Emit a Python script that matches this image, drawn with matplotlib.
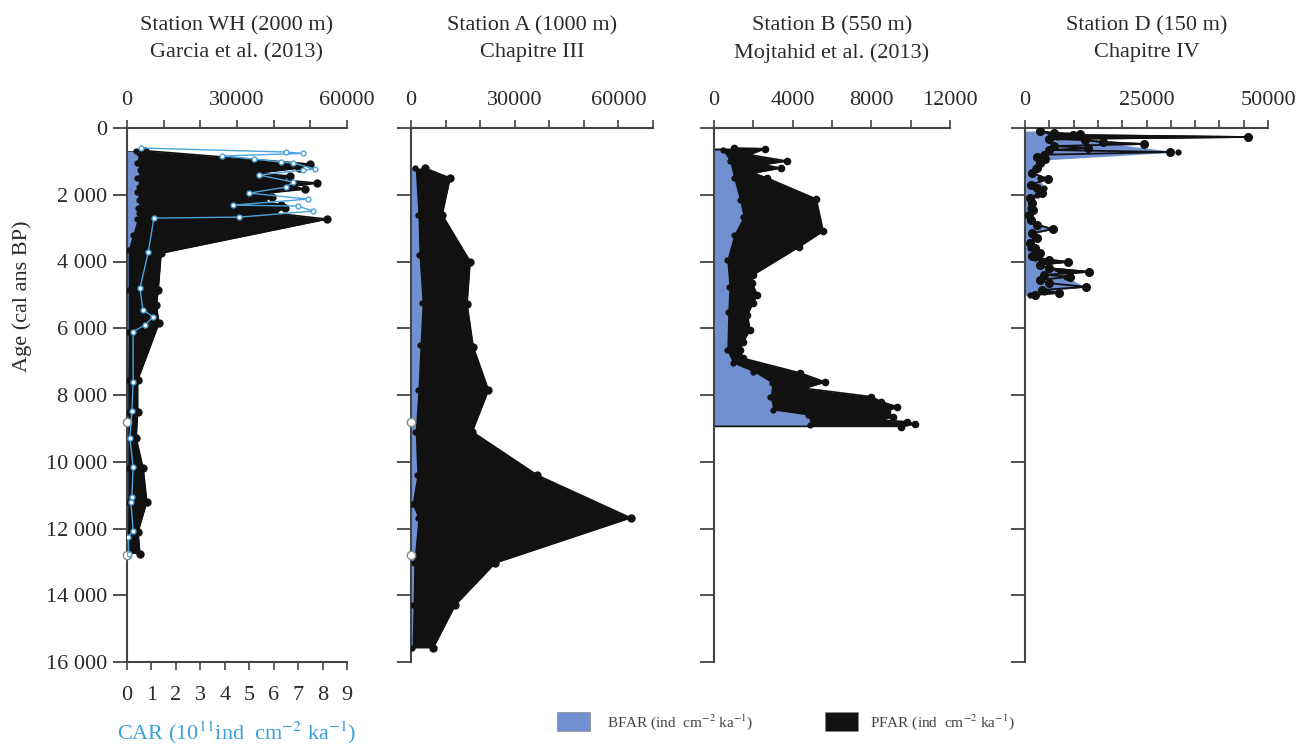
import matplotlib
matplotlib.use('Agg')
import matplotlib.pyplot as plt
from matplotlib.patches import Rectangle

plt.rcParams['font.family'] = ['Liberation Serif', 'DejaVu Serif']
plt.rcParams['mathtext.fontset'] = 'stix'

W, H = 1306, 747
BLUE = '#7090d0'
BLACK = '#111111'
CAR_C = '#4aa3dd'
AX_C = '#444444'
TXT_C = '#2a2a2a'

# ---------------- data ----------------
titles = ["Station WH (2000 m)\nGarcia et al. (2013)",
          "Station A (1000 m)\nChapitre III",
          "Station B (550 m)\nMojtahid et al. (2013)",
          "Station D (150 m)\nChapitre IV"]
age_ticks = [0, 2000, 4000, 6000, 8000, 10000, 12000, 14000, 16000]
age_labels = ['0', '2 000', '4 000', '6 000', '8 000', '10 000', '12 000', '14 000', '16 000']

# Station WH
WH_pfar_age = [680, 1080, 1200, 1350, 1440, 1550, 1650, 1750, 1830, 1950, 2070, 2200, 2300, 2400,
               2550, 2730, 3750, 4850, 5300, 5850, 7550, 8500, 9300, 10200, 11200, 12100, 12750]
WH_pfar = [5000, 49900, 47000, 35700, 44500, 42000, 51800, 45000, 48500, 38000, 39500, 37000, 42000, 43100,
           40000, 54500, 9300, 8500, 8000, 8700, 2900, 2900, 2500, 4400, 5400, 3000, 3500]
WH_bfar_age = [700, 750, 1050, 1260, 1500, 1770, 1920, 2160, 2400, 2550, 2730, 3200, 3650, 4850,
               6100, 7550, 8500, 10200, 11200, 12750]
WH_bfar = [2500, 3200, 2600, 3500, 2800, 3300, 2600, 3400, 2900, 3200, 2800, 1500, 300, 300,
           300, 200, 200, 200, 200, 100]
WH_car_age = [600, 720, 760, 840, 930, 1020, 1050, 1230, 1260, 1410, 1620, 1770, 1950, 2130, 2310,
              2340, 2490, 2670, 2700, 3720, 4800, 5450, 5660, 5900, 6100, 7600, 8480, 9290, 10160,
              11050, 11200, 12070, 12250, 12760]
WH_car = [0.57, 6.5, 7.2, 3.9, 5.2, 6.3, 6.8, 7.7, 7.2, 5.4, 6.8, 6.5, 5.0, 7.4, 4.35,
          7.0, 7.6, 4.6, 1.1, 0.87, 0.53, 0.65, 1.07, 0.74, 0.25, 0.25, 0.2, 0.12, 0.25,
          0.2, 0.16, 0.25, 0.05, 0.08]
CAR_ticks = [0, 1, 2, 3, 4, 5, 6, 7, 8, 9]

# Station A
A_pfar_age = [1200, 1500, 2600, 4000, 5270, 6560, 7850, 9100, 10400, 11680, 13030, 14290, 15580]
A_pfar = [4000, 11300, 9000, 17100, 16200, 18000, 22400, 17700, 36500, 63500, 24400, 12800, 6400]
A_bfar_age = [1200, 2600, 3800, 5240, 6500, 7850, 9100, 10400, 11260, 11680, 13030, 14290, 15580]
A_bfar = [1200, 2000, 2300, 3200, 2600, 2000, 1200, 1700, 300, 2000, 800, 600, 300]
white_age = [8800, 12800]
white_val = [0, 0]

# Station B
B_pfar_age = [600, 620, 800, 990, 1100, 1200, 1350, 1500, 2130, 3090, 3560, 4400, 4640, 5000, 5240,
              5600, 6050, 6400, 6650, 6900, 7340, 7610, 7800, 8050, 8200, 8350, 8500, 8650, 8750,
              8800, 8870, 8950]
B_pfar = [1000, 2600, 1800, 3700, 2500, 3400, 2000, 2700, 5200, 5550, 4330, 1990, 1930, 2200, 1990,
          1700, 1830, 1500, 1320, 1480, 4380, 5650, 4600, 8000, 8500, 9300, 8800, 9100, 8500,
          9800, 10200, 9500]
B_bfar_age = [660, 1000, 1500, 2160, 2660, 3200, 3950, 4760, 5500, 6650, 7040, 7300, 7640, 8050,
              8450, 8600, 8900]
B_bfar = [450, 800, 1000, 1300, 1480, 1000, 650, 760, 700, 650, 950, 2000, 2950, 2850, 3000,
          4800, 4900]

# Station D
D_pfar_age = [100, 150, 180, 210, 270, 330, 360, 420, 480, 540, 600, 660, 720, 800, 860, 930, 1050,
              1200, 1350, 1530, 1700, 1800, 1950, 2100, 2250, 2460, 2600, 2750, 2900, 3030, 3150,
              3300, 3450, 3600, 3750, 3850, 3950, 4010, 4100, 4200, 4310, 4400, 4460, 4550, 4650,
              4760, 4850, 4940, 5000]
D_pfar = [3000, 6000, 11300, 9900, 45900, 5000, 12300, 16100, 24500, 6000, 13000, 5000, 29800, 4000,
          2500, 4100, 3000, 2500, 1500, 4700, 1200, 2500, 3500, 1000, 1500, 1700, 800, 1200, 2500,
          5700, 1500, 2500, 1000, 2000, 3000, 1500, 5000, 8900, 3000, 5000, 13200, 4000, 9300,
          3000, 5000, 12600, 3500, 7000, 2000]
D_bfar_age = [100, 270, 720, 960, 1200, 1500, 1800, 2000, 2400, 2800, 3030, 3200, 3600, 3900, 4200,
              4460, 4760, 4900, 5000]
D_bfar = [3000, 6500, 31500, 3500, 2000, 3000, 4000, 2500, 1000, 1500, 5500, 1500, 1000, 2000, 5000,
          8500, 12300, 4000, 1000]

# top axes settings
xlims = [60000, 70000, 12000, 50000]
major_ticks = [[0, 30000, 60000], [0, 30000, 60000], [0, 4000, 8000, 12000], [0, 25000, 50000]]
minor_step = [10000, 10000, 2000, 5000]

legend_labels = ['BFAR (ind  cm$^{-2}$ ka$^{-1}$)', 'PFAR (ind  cm$^{-2}$ ka$^{-1}$)']

# ---------------- layout ----------------
panels_px = [(127, 347), (411, 653), (714, 950), (1025, 1268)]
top_px, bot_px = 128, 662

fig = plt.figure(figsize=(W / 100, H / 100), dpi=100)

series = [
    (WH_pfar_age, WH_pfar, WH_bfar_age, WH_bfar, 5),
    (A_pfar_age, A_pfar, A_bfar_age, A_bfar, 5),
    (B_pfar_age, B_pfar, B_bfar_age, B_bfar, 4.5),
    (D_pfar_age, D_pfar, D_bfar_age, D_bfar, 5.5),
]

axes = []
for i, (x0, x1) in enumerate(panels_px):
    ax = fig.add_axes([x0 / W, 1 - bot_px / H, (x1 - x0) / W, (bot_px - top_px) / H])
    axes.append(ax)
    pa, pv, ba, bv, ms = series[i]
    ax.fill_betweenx(pa, 0, pv, color=BLACK, lw=0, zorder=1)
    ax.plot(pv, pa, color=BLACK, lw=1.2, zorder=1.5)
    ax.fill_betweenx(ba, 0, bv, color=BLUE, lw=0, zorder=2)
    if i == 3:
        ax.plot(pv, pa, '-o', color=BLACK, ms=ms, lw=1.3, zorder=3)
    else:
        ax.plot(pv, pa, 'o', color=BLACK, ms=ms, lw=0, zorder=3)
    ax.plot(bv, ba, 'o', color=BLACK, ms=3.5, lw=0, zorder=3)

    ax.set_xlim(0, xlims[i])
    ax.set_ylim(16000, 0)
    ax.set_yticks(age_ticks)
    if i == 0:
        ax.set_yticklabels(age_labels)
    else:
        ax.set_yticklabels([])
    for s in ['right', 'bottom']:
        ax.spines[s].set_visible(False)
    for s in ['left', 'top']:
        ax.spines[s].set_color(AX_C)
        ax.spines[s].set_linewidth(1.5)
    ax.tick_params(axis='y', direction='out', length=10, width=1.3, color=AX_C,
                   labelsize=16, labelcolor=TXT_C, pad=4)
    ax.patch.set_alpha(0)
    # titles
    cx = (x0 + x1) / 2 / W
    for k, line in enumerate(titles[i].split('\n')):
        fig.text(cx, 1 - (26 + 27 * k) / H, line, ha='center', va='center',
                 fontsize=16, color=TXT_C)

# white markers in panels WH and A
for ax in axes[:2]:
    ax.plot(white_val, white_age, 'o', mfc='white', mec='#888888', ms=6, zorder=4, clip_on=False)

axes[0].set_ylabel('Age (cal ans BP)', fontsize=16, color=TXT_C)
axes[0].yaxis.set_label_coords(-0.43, 0.685)

# CAR twin axis
ax2 = axes[0].twiny()
ax2.set_xlim(0, 9)
ax2.xaxis.set_ticks_position('bottom')
ax2.xaxis.set_label_position('bottom')
for s in ['top', 'left', 'right']:
    ax2.spines[s].set_visible(False)
ax2.spines['bottom'].set_visible(True)
ax2.spines['bottom'].set_color(AX_C)
ax2.spines['bottom'].set_linewidth(1.5)
ax2.set_xticks(CAR_ticks)
ax2.tick_params(axis='x', direction='out', length=6, width=1.2, color=AX_C,
                labelsize=16, labelcolor=TXT_C, pad=11)
ax2.plot(WH_car, WH_car_age, '-o', color=CAR_C, lw=1.0, ms=3.5, mfc='white', mec=CAR_C, zorder=5)
ax2.set_xlabel('CAR (10$^{11}$ind  cm$^{-2}$ ka$^{-1}$)', fontsize=16, color='#3a9fdb', labelpad=11)

# top axes (after twiny, which moves ticks of axes[0])
for i, ax in enumerate(axes):
    ax.xaxis.set_ticks_position('top')
    ax.xaxis.set_label_position('top')
    ax.set_xticks(major_ticks[i])
    ax.set_xticks(list(range(0, xlims[i] + 1, minor_step[i])), minor=True)
    ax.set_xticklabels([str(t) for t in major_ticks[i]])
    ax.tick_params(axis='x', which='both', direction='out', length=6, width=1.2, color=AX_C,
                   labelsize=16, labelcolor=TXT_C, pad=7, top=True, bottom=False,
                   labeltop=True, labelbottom=False)

# legend
for (x0, x1), col, lab, tx0 in [((557, 590), BLUE, legend_labels[0], 607),
                                ((825, 858), BLACK, legend_labels[1], 870)]:
    fig.patches.append(Rectangle((x0 / W, 1 - 731 / H), (x1 - x0) / W, 19 / H,
                                 transform=fig.transFigure, facecolor=col,
                                 edgecolor='#888888', lw=0.5))
    fig.text(tx0 / W, 1 - 722 / H, lab, fontsize=11, color='#444444', va='center', ha='left')

fig.savefig('out.png', dpi=100)
